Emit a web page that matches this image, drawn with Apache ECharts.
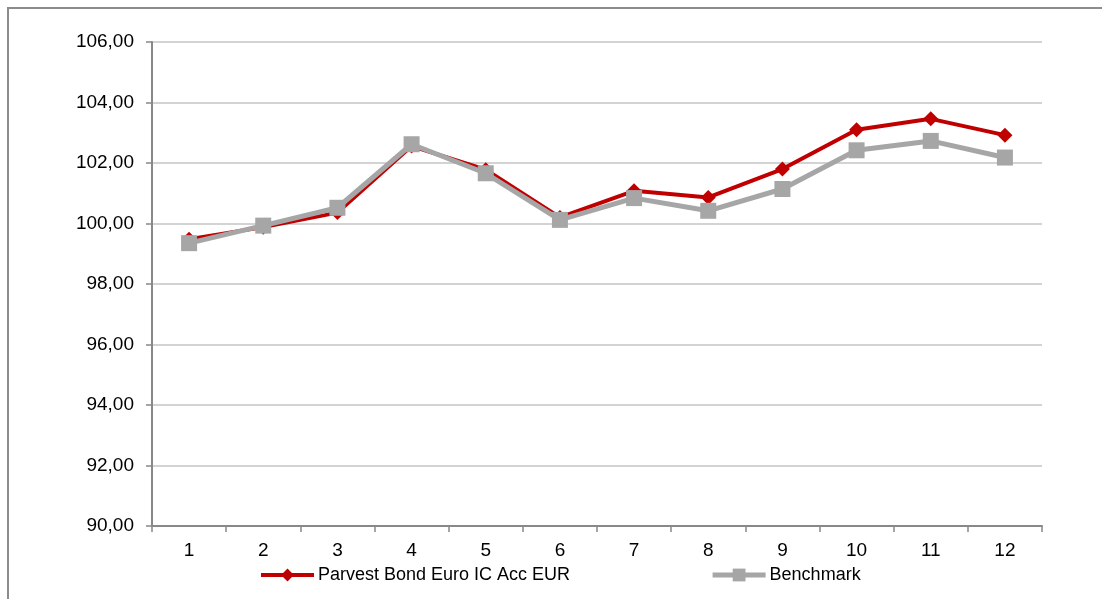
<!DOCTYPE html>
<html>
<head>
<meta charset="utf-8">
<script src="https://cdn.jsdelivr.net/npm/echarts@6/dist/echarts.min.js"></script>
<style>
  html, body { margin: 0; padding: 0; background: #fff; }
  #chart { width: 1102px; height: 599px; }
</style>
</head>
<body>
<div id="chart"></div>
<script>
var categories = ['1', '2', '3', '4', '5', '6', '7', '8', '9', '10', '11', '12'];
var fundName = 'Parvest Bond Euro IC Acc EUR';
var benchName = 'Benchmark';
var fundValues = [99.48, 99.88, 100.36, 102.56, 101.78, 100.2, 101.08, 100.86, 101.8, 103.1, 103.46, 102.92];
var benchValues = [99.35, 99.93, 100.52, 102.62, 101.66, 100.12, 100.84, 100.42, 101.14, 102.42, 102.73, 102.18];

var chart = echarts.init(document.getElementById('chart'));
var font = 'Liberation Sans, Arial, sans-serif';

chart.setOption({
    animation: false,
    graphic: [
        {
            type: 'rect',
            shape: { x: 8, y: 8, width: 1200, height: 700 },
            style: { fill: 'none', stroke: '#8c8c8c', lineWidth: 2 },
            z: -1
        }
    ],
    legend: {
        data: [
            { name: fundName, lineStyle: { width: 4 } },
            { name: benchName, lineStyle: { width: 5 } }
        ],
        left: 259,
        top: 566,
        padding: 0,
        itemWidth: 53,
        itemHeight: 16,
        itemGap: 140,
        textStyle: { fontFamily: font, fontSize: 18, color: '#000', padding: [0, 0, 0, -1] }
    },
    grid: { left: 152, right: 60, top: 42, bottom: 73 },
    xAxis: {
        type: 'category',
        data: categories,
        boundaryGap: true,
        axisLine: { lineStyle: { color: '#888', width: 2 } },
        axisTick: { show: true, length: 6, lineStyle: { color: '#888', width: 1.5 } },
        axisLabel: { fontFamily: font, fontSize: 19, color: '#000', margin: 15 },
        splitLine: { show: false }
    },
    yAxis: {
        type: 'value',
        min: 90,
        max: 106,
        interval: 2,
        axisLine: { show: true, lineStyle: { color: '#888', width: 2 } },
        axisTick: { show: true, length: 6, lineStyle: { color: '#888', width: 1.5 } },
        axisLabel: {
            fontFamily: font, fontSize: 19, color: '#000', margin: 18,
            formatter: function (v) { return v.toFixed(2).replace('.', ','); }
        },
        splitLine: { lineStyle: { color: '#c4c4c4', width: 1.5 } }
    },
    series: [
        {
            name: fundName,
            type: 'line',
            data: fundValues,
            symbol: 'diamond',
            symbolSize: 15,
            itemStyle: { color: '#c00000' },
            lineStyle: { color: '#c00000', width: 4 },
            z: 2
        },
        {
            name: benchName,
            type: 'line',
            data: benchValues,
            symbol: 'rect',
            symbolSize: 16,
            itemStyle: { color: '#a6a6a6' },
            lineStyle: { color: '#a6a6a6', width: 5 },
            z: 3
        }
    ]
});
</script>
</body>
</html>
